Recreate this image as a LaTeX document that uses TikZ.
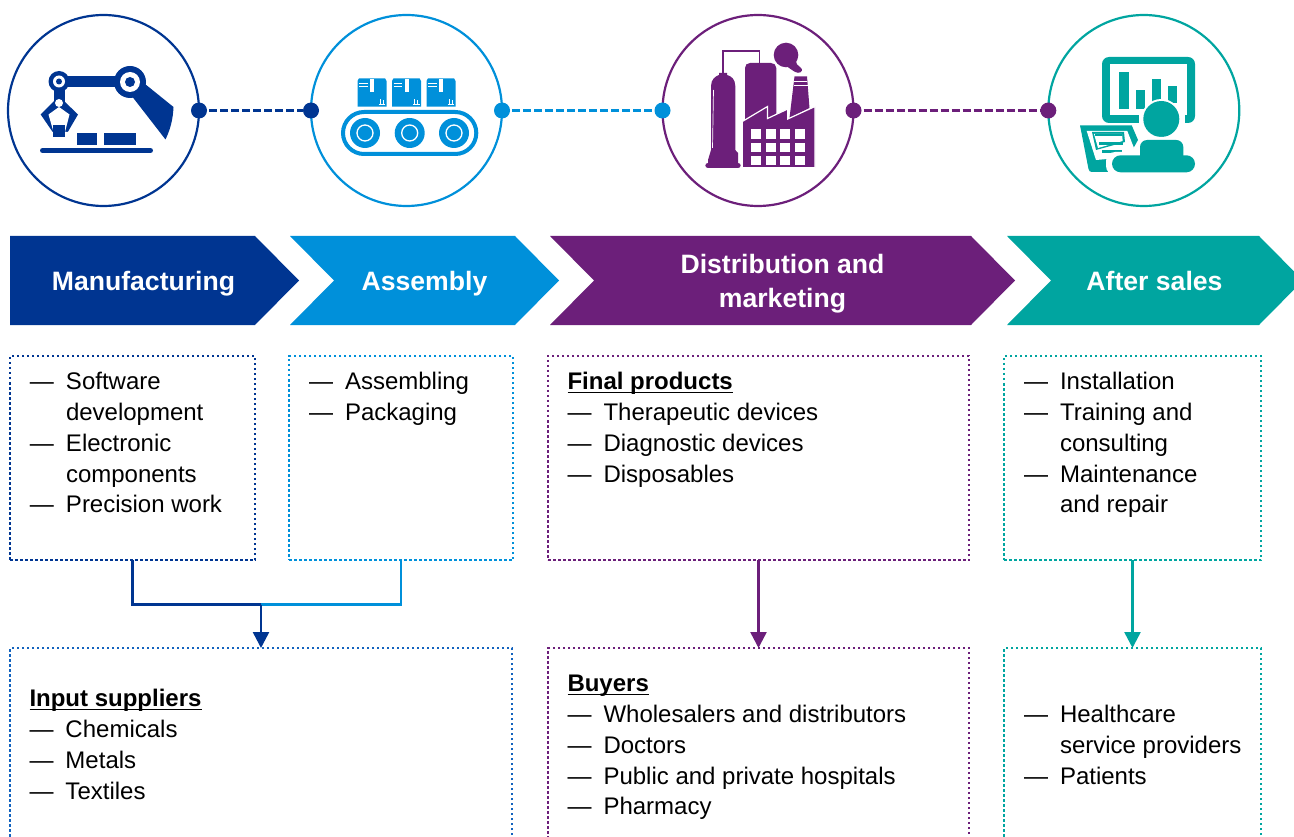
\documentclass[tikz,border=0pt]{standalone}
\usepackage{fontspec}
\setmainfont{Liberation Sans}
\usetikzlibrary{arrows.meta}
\definecolor{navy}{HTML}{003591}
\definecolor{sky}{HTML}{0090DA}
\definecolor{plum}{HTML}{6C1F7A}
\definecolor{teal2}{HTML}{00A5A0}
\definecolor{midblue}{HTML}{1363BE}
\newlength{\hdw}
\newcommand{\li}[1]{\strut\makebox[36pt][l]{—}#1}
\newcommand{\lc}[1]{\strut\hspace*{36pt}#1}
\newcommand{\hd}[1]{\strut\settowidth{\hdw}{\textbf{#1}}\rlap{\rule[-3.6pt]{\hdw}{1.7pt}}\textbf{#1}}
\tikzset{
  ring/.style={circle,draw=#1,line width=2.2pt,minimum size=191pt,inner sep=0pt,outer sep=0pt},
  knob/.style={circle,fill=#1,minimum size=16pt,inner sep=0pt,outer sep=0pt},
  link/.style={draw=#1,line width=2.5pt,dash pattern=on 8pt off 3pt},
  panel/.style={draw=#1,line width=2.4pt,dash pattern=on 2.5pt off 2.5pt,inner sep=0pt,outer sep=0pt,anchor=north west},
  listtext/.style={anchor=north west,inner sep=0pt,outer sep=0pt,align=left,text=black,font=\fontsize{24}{30.75}\selectfont},
  headtext/.style={text=white,inner sep=0pt,align=center,font=\fontsize{26.6}{34}\selectfont\bfseries},
  wire/.style={draw=#1,line width=2.5pt},
  arrowwire/.style={draw=#1,line width=2.5pt,-{Triangle[width=16pt,length=16pt]}},
}
\begin{document}
\begin{tikzpicture}[x=1pt,y=-1pt]
\useasboundingbox (0,0) rectangle (1294,837);
\clip (0,0) rectangle (1294,837);

% circles
\node[ring=navy] (c1) at (103.5,110.5) {};
\node[ring=sky] (c2) at (406.5,110.5) {};
\node[ring=plum] (c3) at (758,110.5) {};
\node[ring=teal2] (c4) at (1143.8,110.5) {};

% connectors between the circles
\node[knob=navy] (d1a) at (c1.east) {};
\node[knob=navy] (d1b) at (c2.west) {};
\node[knob=sky] (d2a) at (c2.east) {};
\node[knob=sky] (d2b) at (c3.west) {};
\node[knob=plum] (d3a) at (c3.east) {};
\node[knob=plum] (d3b) at (c4.west) {};
\draw[link=navy] (d1a.east) ++(2,0) -- (d1b);
\draw[link=sky] (d2a.east) ++(2,0) -- (d2b);
\draw[link=plum] (d3a.east) ++(2,0) -- (d3b);

% icon 1: robot arm
\fill[navy] (145,84) -- (173.5,107) .. controls (173,120) and (170,130) .. (165.5,139.5) -- (131,95) -- cycle;
\fill[navy] (59,76) rectangle (130,87);
\fill[navy] (53.5,85) rectangle (64.5,104);
\fill[navy] (130,82) circle (16);
\fill[white] (130,82) circle (10);
\fill[navy] (130,82) circle (5);
\fill[navy] (59,81.5) circle (10.5);
\fill[white] (59,81.5) circle (6);
\fill[navy] (59,81.5) circle (3);
\fill[navy] (40.7,114.5) -- (54,101) -- (64,101) -- (78,114.5) -- (67.5,132.5) -- (53,132.5) -- cycle;
\fill[white] (59,107) -- (48.5,114.5) -- (53.5,132) -- (50,132) -- (52,140) -- (66,140) -- (68,132) -- (65,132) -- (69.5,114.5) -- cycle;
\fill[navy] (53,125) rectangle (65,137);
\fill[white] (59,103) circle (4);
\fill[navy] (77,133) rectangle (97,145);
\fill[navy] (104,133) rectangle (136,145);
\draw[navy,line width=5pt,line cap=round] (42.5,150.5) -- (150.5,150.5);

% icon 2: conveyor
\foreach \bx in {357.5,392,426.5}{
  \fill[sky] (\bx+1.5,78.3) -- (\bx+27.5,78.3) -- (\bx+29,81) -- (\bx+29,106.7) -- (\bx,106.7) -- (\bx,81) -- cycle;
  \fill[white] (\bx+12.5,79.5) rectangle (\bx+16.5,92);
  \draw[white,line width=0.7pt] (\bx+1.5,83.5) -- (\bx+10,83.5) (\bx+1.5,86) -- (\bx+10,86);
  \draw[white,line width=0.8pt] (\bx+21,104.5) -- (\bx+27.5,104.5) (\bx+22.5,104) -- (\bx+22.5,99) (\bx+25.5,104) -- (\bx+25.5,100);
}
\draw[sky,line width=4pt,rounded corners=21pt] (343,112) rectangle (476.3,154);
\foreach \rx in {365,409.7,454}{
  \fill[sky] (\rx,133) circle (15);
  \draw[white,line width=1.3pt] (\rx,133) circle (8);
}

% icon 3: factory
\draw[plum,line width=1.5pt] (723,74) -- (723,51) -- (759.5,51) -- (759.5,64);
\fill[plum] (708,160) -- (711,150) -- (711,86) .. controls (711,79) and (716,76) .. (719,75) -- (719,73) -- (727,73) -- (727,75) .. controls (731,76) and (735.3,79) .. (735.3,86) -- (735.3,150) -- (738,153) -- (738,163) .. controls (741.5,163) and (741.5,168) .. (738,168) -- (708,168) .. controls (704.5,168) and (704.5,163) .. (708,163) -- cycle;
\draw[white,line width=0.7pt] (713.5,90) -- (712.5,148);
\fill[plum] (745,120) -- (745,68) .. controls (745,65) and (747,63) .. (750,63) -- (771,63) .. controls (774,63) and (776.3,65) .. (776.3,68) -- (776.3,120) -- cycle;
\fill[plum] (794.5,76.5) -- (807,76.5) -- (809.5,108) -- (789.5,118) -- cycle;
\draw[white,line width=0.9pt] (794,81.5) -- (807.4,81.5) (793.7,85.5) -- (807.7,85.5);
\fill[plum] (786,55) circle (12.3);
\fill[plum] (789,60) -- (796,60) .. controls (796,64) and (798,66) .. (800,67) .. controls (803.5,69) and (802,73) .. (798,72.8) .. controls (794,72.5) and (790,68) .. (786,66) -- cycle;
\draw[white,line width=1.2pt,fill=plum,line join=miter] (742.3,121.5) -- (767.5,106.5) -- (767.5,118.5) -- (787.7,109) -- (787.7,119) -- (815,106.5) -- (815,167.7) -- (742.3,167.7) -- cycle;
\foreach \wx in {751.3,766,780.3,795}{
  \foreach \wy in {129.5,143,156}{
    \fill[white] (\wx,\wy) rectangle ++(9.6,9.4);
  }
}

% icon 4: presenter
\fill[teal2,rounded corners=7pt] (1102,57) rectangle (1195,123);
\fill[white] (1109.7,64.3) rectangle (1187.3,115);
\fill[white] (1138.5,115) rectangle (1184.5,123);
\fill[teal2] (1119,72) rectangle (1129,109);
\fill[teal2] (1135.7,90) rectangle (1145,109);
\fill[teal2] (1152,78.7) rectangle (1161.3,103.3);
\fill[teal2] (1168.3,86) rectangle (1177.3,103.3);
\fill[white] (1161.3,119) circle (20);
\fill[teal2] (1161.3,119) circle (18);
\fill[teal2] (1080,125.3) -- (1131.7,125.3) -- (1138,140) -- (1120,172) -- (1092,172) .. controls (1090,172) and (1089,171) .. (1088.5,169) -- cycle;
\fill[white] (1086.7,131) -- (1127.3,131) -- (1134,148) -- (1130,157) -- (1096,160) -- cycle;
\fill[teal2] (1092,132) -- (1124,132) -- (1125,142) -- (1096,150) -- cycle;
\fill[white] (1094,134) -- (1122,134) -- (1122.7,141) -- (1098,148) -- cycle;
\fill[teal2] (1094.5,134.3) rectangle (1122,136.5);
\fill[teal2] (1099,142.3) rectangle (1122.5,144.8);
\fill[teal2] (1101.5,150.5) rectangle (1122,153);
\fill[white,rounded corners=9pt] (1106,152) rectangle (1200,175);
\fill[white,rounded corners=8pt] (1137,137) rectangle (1186,160);
\fill[teal2,rounded corners=7pt] (1140,140) rectangle (1183.3,165);
\fill[teal2,rounded corners=8.5pt] (1112,155.3) rectangle (1195,172.3);

% chevrons
\fill[navy] (10,236) -- (255,236) -- (299,280.5) -- (255,325) -- (10,325) -- cycle;
\fill[sky] (290,236) -- (515,236) -- (559,280.5) -- (515,325) -- (290,325) -- (334,280.5) -- cycle;
\fill[plum] (550,236) -- (971,236) -- (1015,280.5) -- (971,325) -- (550,325) -- (594,280.5) -- cycle;
\fill[teal2] (1007,236) -- (1259,236) -- (1303,280.5) -- (1259,325) -- (1007,325) -- (1051,280.5) -- cycle;
\node[headtext] (h1) at (143.5,284) {Manufacturing};
\node[headtext] (h2) at (424.5,284) {Assembly};
\node[headtext] (h3) at (782.5,284) {Distribution and\\marketing};
\node[headtext] (h4) at (1154.5,281) {After sales};

% panels
\node[panel=navy,minimum width=245pt,minimum height=204pt] (b1) at (10,356) {};
\node[panel=sky,minimum width=224pt,minimum height=204pt] (b2) at (289,356) {};
\node[panel=plum,minimum width=421pt,minimum height=204pt] (b3) at (548,356) {};
\node[panel=teal2,minimum width=257pt,minimum height=204pt] (b4) at (1004,356) {};
\node[panel=midblue,minimum width=502pt,minimum height=220pt] (b5) at (10,648) {};
\node[panel=plum,minimum width=421pt,minimum height=220pt] (b6) at (548,648) {};
\node[panel=teal2,minimum width=257pt,minimum height=220pt] (b7) at (1004,648) {};

% panel texts
\node[listtext] (t1) at (30,368.3) {\li{Software}\\\lc{development}\\\li{Electronic}\\\lc{components}\\\li{Precision work}};
\node[listtext] (t2) at (309,368.3) {\li{Assembling}\\\li{Packaging}};
\node[listtext] (t3) at (567.5,368.3) {\hd{Final products}\\\li{Therapeutic devices}\\\li{Diagnostic devices}\\\li{Disposables}};
\node[listtext] (t4) at (1024,368.3) {\li{Installation}\\\li{Training and}\\\lc{consulting}\\\li{Maintenance}\\\lc{and repair}};
\node[listtext] (t5) at (29.5,685.3) {\hd{Input suppliers}\\\li{Chemicals}\\\li{Metals}\\\li{Textiles}};
\node[listtext] (t6) at (567.5,670.3) {\hd{Buyers}\\\li{Wholesalers and distributors}\\\li{Doctors}\\\li{Public and private hospitals}\\\li{Pharmacy}};
\node[listtext] (t7) at (1024,701.3) {\li{Healthcare}\\\lc{service providers}\\\li{Patients}};

% flow connectors
\coordinate (j) at (b5.north |- 0,604.5);
\draw[wire=sky] (b2.south) |- (j);
\draw[wire=navy] (b1.south) |- (j);
\draw[arrowwire=navy] (j) -- (b5.north);
\draw[arrowwire=plum] (b3.south) -- (b6.north);
\draw[arrowwire=teal2] (b4.south) -- (b7.north);
\end{tikzpicture}
\end{document}
